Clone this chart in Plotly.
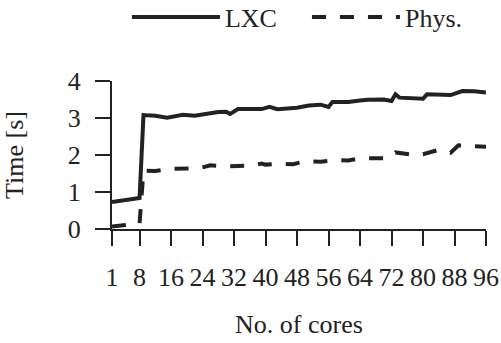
import plotly.graph_objects as go

lxc_cores = [1, 8, 9, 12, 15, 19, 22, 25, 28, 30, 31, 33, 39, 41, 43, 48, 51, 54, 56, 57,
             61, 64, 66, 70, 72, 73, 74, 80, 81, 87, 90, 93, 96]
lxc_time = [0.73, 0.84, 3.08, 3.06, 3.01, 3.09, 3.06, 3.12, 3.16, 3.17, 3.11, 3.24, 3.24, 3.30,
            3.24, 3.28, 3.34, 3.36, 3.30, 3.43, 3.43, 3.47, 3.49, 3.50, 3.46, 3.64, 3.55, 3.52,
            3.64, 3.62, 3.73, 3.72, 3.69]

phys_cores = [1, 4, 8, 9, 12, 16, 20, 23, 26, 30, 33, 37, 39, 40, 44, 47, 50, 54, 58, 61,
              64, 68, 71, 73, 77, 80, 84, 87, 89, 92, 96]
phys_time = [0.07, 0.11, 0.15, 1.58, 1.57, 1.63, 1.63, 1.64, 1.72, 1.69, 1.70, 1.72, 1.77, 1.74,
             1.76, 1.75, 1.83, 1.82, 1.86, 1.85, 1.91, 1.91, 1.91, 2.07, 2.01, 2.02, 2.14, 2.06,
             2.26, 2.24, 2.22]

x_ticks = [1, 8, 16, 24, 32, 40, 48, 56, 64, 72, 80, 88, 96]
y_ticks = [0, 1, 2, 3, 4]

ink = "#222222"
font = dict(family="Liberation Serif", size=26, color=ink)

fig = go.Figure()
fig.add_trace(go.Scatter(x=lxc_cores, y=lxc_time, mode="lines", name="LXC",
                         line=dict(color=ink, width=4)))
fig.add_trace(go.Scatter(x=phys_cores, y=phys_time, mode="lines", name="Phys.",
                         line=dict(color=ink, width=4, dash="14px,14px")))

fig.update_layout(
    width=501, height=343,
    margin=dict(l=112, r=15, t=81, b=114, autoexpand=False),
    paper_bgcolor="white", plot_bgcolor="white",
    font=font,
    showlegend=True,
    legend=dict(orientation="h", x=0.04, xanchor="left", y=1.432, yanchor="middle",
                font=font, bgcolor="rgba(0,0,0,0)", itemwidth=88,
                entrywidth=77, entrywidthmode="pixels"),
    xaxis=dict(range=[1, 96], tickvals=x_ticks, ticktext=[str(v) for v in x_ticks],
               showgrid=False, zeroline=False, showline=True, linecolor=ink, linewidth=2,
               ticks="outside", ticklen=15, tickwidth=2, tickcolor=ink, automargin=False,
               ticklabelstandoff=9,
               title=dict(text="No. of cores", font=font, standoff=24),
               tickfont=font),
    yaxis=dict(range=[0, 4], tickvals=y_ticks,
               showgrid=False, zeroline=False, showline=True, linecolor=ink, linewidth=2,
               ticks="outside", ticklen=15, tickwidth=2, tickcolor=ink, automargin=False,
               ticklabelstandoff=9,
               title=dict(text="Time [s]", font=font, standoff=37),
               tickfont=font),
)

fig.write_html("out.html", config={"displayModeBar": False},
               post_script="document.body.style.margin='0px';document.body.style.overflow='hidden';")
